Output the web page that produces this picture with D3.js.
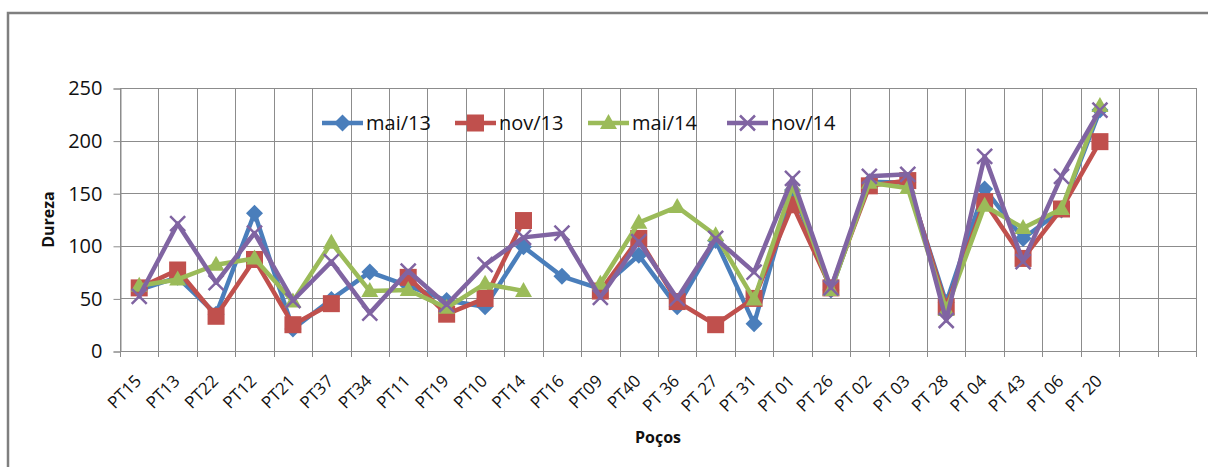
<!DOCTYPE html>
<html lang="pt">
<head>
<meta charset="utf-8">
<script src="https://d3js.org/d3.v7.min.js"></script>
<style>
  body { margin: 0; background: #fff; }
  text { font-family: "Open Sans", "Liberation Sans", sans-serif; fill: #111; }
</style>
</head>
<body>
<script>
var categories = ["PT15", "PT13", "PT22", "PT12", "PT21", "PT37", "PT34", "PT11", "PT19", "PT10",
                  "PT14", "PT16", "PT09", "PT40", "PT 36", "PT 27", "PT 31", "PT 01", "PT 26", "PT 02",
                  "PT 03", "PT 28", "PT 04", "PT 43", "PT 06", "PT 20", "", ""];

var mai13 = [58, 70, 35, 131, 21, 49, 75, 62, 48, 42, 99, 71, 59, 91, 42, 105, 26, 153, 58, 161, 160, 46, 154, 107, 134, 229];
var nov13 = [60, 77, 33, 87, 25, 45, null, 70, 35, 50, 124, null, 57, 107, 47, 25, 50, 139, 60, 157, 162, 42, 142, 88, 135, 199];
var mai14 = [62, 68, 82, 88, 47, 103, 57, 58, 41, 64, 57, null, 64, 122, 137, 110, 49, 157, 58, 160, 155, 39, 138, 117, 135, 233];
var nov14 = [52, 121, 65, 112, 48, 85, 36, 76, 44, 82, 108, 112, 51, 104, 50, 107, 75, 164, 60, 166, 168, 29, 185, 85, 166, 229];

var seriesNames = ["mai/13", "nov/13", "mai/14", "nov/14"];
var yTicks = [0, 50, 100, 150, 200, 250];

var series = [
    { name: seriesNames[0], values: mai13, color: "#4a7ebb", marker: "diamond" },
    { name: seriesNames[1], values: nov13, color: "#c0504d", marker: "square" },
    { name: seriesNames[2], values: mai14, color: "#9bbb59", marker: "triangle" },
    { name: seriesNames[3], values: nov14, color: "#8064a2", marker: "x" }
];

var width = 1208, height = 467;
var plotLeft = 120, plotRight = 1196, plotTop = 88, plotBottom = 351;

var svg = d3.select("body").append("svg")
    .attr("width", width)
    .attr("height", height);

// outer chart frame
svg.append("rect")
    .attr("x", 8).attr("y", 13)
    .attr("width", 1220).attr("height", 480)
    .attr("fill", "#fff")
    .attr("stroke", "#7f7f7f")
    .attr("stroke-width", 2.5);

var x = d3.scaleBand()
    .domain(d3.range(categories.length))
    .range([plotLeft, plotRight])
    .padding(0);

var y = d3.scaleLinear()
    .domain([0, 250])
    .range([plotBottom, plotTop]);

function cx(i) { return x(i) + x.bandwidth() / 2; }

// grid
var grid = svg.append("g").attr("stroke", "#8c8c8c").attr("stroke-width", 1);
grid.selectAll("line.h")
    .data(yTicks)
    .enter().append("line")
    .attr("x1", plotLeft).attr("x2", plotRight)
    .attr("y1", function (d) { return Math.round(y(d)) + 0.5; })
    .attr("y2", function (d) { return Math.round(y(d)) + 0.5; });

var bounds = d3.range(categories.length + 1).map(function (i) {
    return i < categories.length ? x(i) : plotRight;
});
grid.selectAll("line.v")
    .data(bounds)
    .enter().append("line")
    .attr("x1", function (d) { return Math.round(d) + 0.5; })
    .attr("x2", function (d) { return Math.round(d) + 0.5; })
    .attr("y1", plotTop)
    .attr("y2", plotBottom + 6);

// y axis
var yAxis = d3.axisLeft(y)
    .tickValues(yTicks)
    .tickSize(7)
    .tickPadding(11);
var gy = svg.append("g")
    .attr("transform", "translate(" + (plotLeft + 0.5) + ",0.5)")
    .call(yAxis);
gy.select(".domain").attr("stroke", "#8c8c8c");
gy.selectAll(".tick line").attr("stroke", "#8c8c8c");
gy.selectAll(".tick text")
    .style("font-size", "20px")
    .attr("fill", "#222");

// x axis labels
var xAxis = d3.axisBottom(x)
    .tickFormat(function (i) { return categories[i]; })
    .tickSize(0);
var gx = svg.append("g")
    .attr("transform", "translate(0," + plotBottom + ")")
    .call(xAxis);
gx.select(".domain").remove();
gx.selectAll(".tick text")
    .style("font-size", "17px")
    .attr("fill", "#222")
    .attr("text-anchor", "end")
    .attr("x", 0).attr("y", 0).attr("dy", "0.35em")
    .attr("transform", "translate(-1,27) rotate(-45)");

// axis titles
svg.append("text")
    .attr("transform", "translate(54," + ((plotTop + plotBottom) / 2) + ") rotate(-90)")
    .attr("text-anchor", "middle")
    .style("font-size", "16px")
    .style("font-weight", "bold")
    .text("Dureza");

svg.append("text")
    .attr("x", (plotLeft + plotRight) / 2)
    .attr("y", 443)
    .attr("text-anchor", "middle")
    .style("font-size", "16px")
    .style("font-weight", "bold")
    .text("Poços");

function drawMarker(g, type, color, px, py) {
    if (type === "diamond") {
        var r = 8.5;
        g.append("path")
            .attr("d", "M" + px + "," + (py - r) + "L" + (px + r) + "," + py + "L" + px + "," + (py + r) + "L" + (px - r) + "," + py + "Z")
            .attr("fill", color);
    } else if (type === "square") {
        g.append("rect")
            .attr("x", px - 8.5).attr("y", py - 8.5)
            .attr("width", 17).attr("height", 17)
            .attr("fill", color);
    } else if (type === "triangle") {
        g.append("path")
            .attr("d", "M" + px + "," + (py - 9) + "L" + (px + 8.5) + "," + (py + 6) + "L" + (px - 8.5) + "," + (py + 6) + "Z")
            .attr("fill", color);
    } else {
        var s = 7.5;
        g.append("path")
            .attr("d", "M" + (px - s) + "," + (py - s) + "L" + (px + s) + "," + (py + s) +
                       "M" + (px - s) + "," + (py + s) + "L" + (px + s) + "," + (py - s))
            .attr("stroke", color)
            .attr("stroke-width", 2.5)
            .attr("fill", "none");
    }
}

var line = d3.line()
    .defined(function (d) { return d != null; })
    .x(function (d, i) { return cx(i); })
    .y(function (d) { return y(d); });

series.forEach(function (s) {
    var g = svg.append("g");
    g.append("path")
        .datum(s.values)
        .attr("d", line)
        .attr("fill", "none")
        .attr("stroke", s.color)
        .attr("stroke-width", 4.5)
        .attr("stroke-linejoin", "round");
    s.values.forEach(function (v, i) {
        if (v != null) drawMarker(g, s.marker, s.color, cx(i), y(v));
    });
});

// legend
var legendX = [322, 455, 588, 727];
var legendY = 123;
series.forEach(function (s, k) {
    var g = svg.append("g");
    var x0 = legendX[k];
    g.append("line")
        .attr("x1", x0).attr("x2", x0 + 41)
        .attr("y1", legendY).attr("y2", legendY)
        .attr("stroke", s.color)
        .attr("stroke-width", 4.5);
    drawMarker(g, s.marker, s.color, x0 + 20.5, legendY);
    g.append("text")
        .attr("x", x0 + 44)
        .attr("y", legendY)
        .attr("dy", "0.35em")
        .style("font-size", "20px")
        .attr("fill", "#222")
        .text(s.name);
});
</script>
</body>
</html>
